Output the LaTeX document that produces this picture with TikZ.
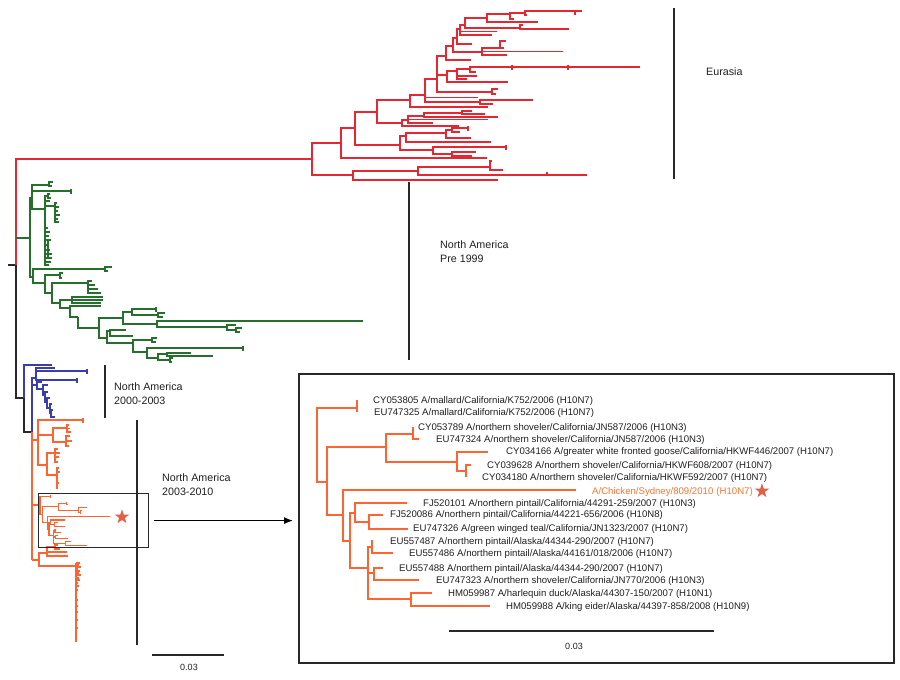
\documentclass[tikz,border=0pt]{standalone}
\usepackage{fontspec}
\setmainfont{Liberation Sans}
\usetikzlibrary{shapes.geometric,arrows.meta}
\definecolor{redtree}{RGB}{230,38,48}
\definecolor{greentree}{RGB}{36,112,44}
\definecolor{bluetree}{RGB}{58,62,170}
\definecolor{orangetree}{RGB}{255,100,48}
\definecolor{starcol}{RGB}{226,96,72}
\definecolor{chickcol}{RGB}{244,118,52}
\definecolor{txtcol}{RGB}{35,31,32}
\definecolor{barcol}{RGB}{40,40,40}
\newcommand{\tfork}[5]{\draw (#4,#2) -- (#1,#2) -- (#1,#3) -- (#5,#3);}
\newcommand{\tleaf}[3]{\draw (#1,#2) -- (#3,#2);}
\newcommand{\ttick}[2]{\draw (#1,#2-2.5) -- (#1,#2+2.5);}
\newcommand{\insettree}{%
\tfork{317}{408}{482}{357}{327}
\draw (357,400) -- (357,412);
\tfork{327}{447}{515}{386}{343}
\tfork{386}{434}{462}{413}{457}
\tfork{413}{427}{439}{413}{419}
\tfork{457}{452}{471}{488}{466}
\tfork{466}{465}{477}{471}{466}
\tfork{343}{490}{541}{576}{350}
\tfork{350}{513}{568}{355}{368}
\tfork{355}{503}{522}{407}{369}
\tfork{369}{515}{529}{383}{408}
\tfork{368}{547}{599}{372}{411}
\tleaf{368}{573}{374}
\tfork{372}{541}{553}{373}{393}
\tfork{374}{568}{580}{383}{419}
\tfork{411}{593}{606}{432}{490}
}
\tikzset{
  tree/.style={line width=1.1pt, line join=miter},
  bar/.style={line width=1.5pt, draw=barcol},
  lab/.style={font=\fontsize{10.7}{13.5}\selectfont, text=txtcol, inner sep=0pt, anchor=base west},
  ilab/.style={font=\fontsize{9.6}{11}\selectfont, text=txtcol, inner sep=0pt, anchor=base west},
  sclab/.style={font=\fontsize{9}{11}\selectfont, text=txtcol, inner sep=0pt},
  starmark/.style={star, star points=5, star point ratio=2.5, fill=starcol, draw=none, inner sep=0pt, minimum size=15pt},
}
\begin{document}
\begin{tikzpicture}[x=1pt,y=-1pt]
\useasboundingbox (0,0) rectangle (900,680);
\fill[white] (0,0) rectangle (900,680);

% ---------- root (black) ----------
\begin{scope}[tree, draw=barcol]
\draw (8,265) -- (16,265);
\draw (16,265) -- (16,398) -- (24,398);
\draw (24,398) -- (24,432) -- (32,432);
\end{scope}

% ---------- Eurasia (red) ----------
\begin{scope}[tree, draw=redtree]
\draw (16,265) -- (16,159) -- (312,159);
\tfork{312}{143}{175}{341}{353}
\tfork{353}{171}{180}{418}{498}
\tfork{418}{167}{175}{490}{587}
\tfork{490}{161}{170}{492}{503}
\draw (547,171.5) -- (547,175);
\tfork{341}{128}{158}{355}{487}
\tfork{355}{112}{145}{377}{400}
\tfork{400}{136}{150}{406}{433}
\tfork{406}{133}{142}{446}{491}
\tfork{446}{130}{138}{452}{471}
\tfork{452}{128}{132}{468}{460}
\ttick{468}{128}
\tfork{433}{147}{154}{506}{452}
\ttick{506}{147}
\tfork{452}{152}{156}{476}{472}
\tfork{377}{100}{123}{410}{402}
\tfork{402}{120}{126}{408}{459}
\tfork{408}{116}{123}{424}{433}
\tleaf{408}{119.5}{488}
\tfork{424}{113}{117}{462}{498}
\tfork{462}{111}{114}{472}{485}
\tfork{410}{95}{107}{425}{488}
\tfork{425}{79}{102}{437}{480}
\tleaf{425}{97.5}{478}
\tfork{480}{100}{104}{533}{493}
\tfork{437}{56}{92}{446}{492}
\tleaf{437}{75}{447}
\tfork{492}{89}{94}{498}{496}
\tfork{447}{71}{82}{457}{508}
\tfork{457}{69}{79}{470}{467}
\tleaf{457}{76}{477}
\tfork{470}{67}{72}{640}{476}
\ttick{512}{67}
\ttick{568}{67}
\tfork{446}{46}{60}{453}{471}
\tfork{453}{38}{52}{457}{482}
\tfork{482}{48}{55}{500}{507}
\tleaf{482}{51.5}{563}
\tfork{500}{41}{48}{506}{504}
\tfork{457}{29}{44}{460}{472}
\tfork{460}{25}{35}{465}{492}
\tleaf{460}{31.5}{497}
\tfork{465}{18}{28}{487}{520}
\tfork{520}{25}{29}{523}{569}
\tfork{487}{14}{22}{510}{538}
\tfork{510}{13}{19}{525}{514}
\tfork{525}{11}{15}{582}{527}
\ttick{575}{12}
\end{scope}

% ---------- North America pre 1999 (green) ----------
\begin{scope}[tree, draw=greentree]
\draw (16,238) -- (30,238);
\tfork{30}{198}{277}{32}{33}
\tfork{32}{185}{209}{49}{45}
\tfork{49}{182}{186}{53}{52}
\tleaf{32}{191}{71}
\ttick{71}{191}
\tfork{45}{196}{265}{48}{49}
\tfork{48}{194}{198}{50}{51}
\tleaf{45}{201}{50}
\tleaf{45}{206}{55}
\tfork{55}{203}{222}{57}{59}
\tleaf{55}{207}{59}
\tleaf{55}{211}{58}
\tleaf{55}{215}{60}
\tleaf{55}{219}{58}
\foreach \y/\l in {228/48,232/50,236/49,240/51,245/48,250/50,254/52,258/49,262/51}{\tleaf{45}{\y}{\l}}
\tfork{48}{240}{258}{50}{52}
\tfork{33}{269}{283}{105}{45}
\tfork{105}{267}{271}{112}{108}
\tfork{45}{275}{293}{60}{52}
\tfork{60}{273}{278}{63}{62}
\tfork{52}{283}{303}{88}{60}
\tfork{88}{281}{293}{92}{101}
\tleaf{88}{285}{95}
\tleaf{88}{289}{98}
\tfork{60}{300}{308}{72}{70}
\tfork{72}{297}{303}{103}{101}
\tleaf{72}{300}{103}
\tfork{70}{306}{317}{101}{78}
\draw (78,317) -- (78,328) -- (99,328);
\tfork{99}{318}{338}{123}{107}
\tfork{123}{312}{324}{132}{157}
\tfork{132}{309}{315}{156}{158}
\ttick{156}{309}
\tfork{158}{313}{317}{165}{163}
\tfork{157}{321}{327}{363}{227}
\tfork{227}{325}{330}{236}{236}
\tfork{236}{328}{332}{242}{240}
\tfork{107}{331}{343}{110}{133}
\tfork{110}{330}{336}{126}{133}
\tfork{133}{340}{352}{152}{147}
\tfork{152}{338}{342}{157}{156}
\tfork{147}{348}{358}{243}{158}
\ttick{243}{348}
\tfork{158}{354}{360}{167}{170}
\tfork{167}{353}{356}{191}{213}
\tfork{170}{358}{362}{173}{172}
\end{scope}

% ---------- North America 2000-2003 (blue) ----------
\begin{scope}[tree, draw=bluetree]
\draw (24,398) -- (24,365) -- (52,365);
\draw (32,432) -- (32,378);
\tfork{32}{378}{385}{36}{37}
\tfork{36}{368}{380}{55}{77}
\tleaf{36}{371}{87}
\ttick{87}{371}
\ttick{77}{380}
\tfork{37}{382}{389}{42}{43}
\tfork{43}{385}{395}{48}{45}
\tfork{45}{392}{402}{48}{47}
\tfork{47}{398}{408}{50}{50}
\tfork{50}{404}{413}{52}{51}
\tfork{51}{410}{417}{53}{55}
\end{scope}

% ---------- North America 2003-2010 (orange) ----------
\begin{scope}[tree, draw=orangetree]
\draw (32,432) -- (32,560);
\draw (32,440) -- (38,440);
\tfork{38}{420}{465}{83}{47}
\ttick{83}{420}
\tleaf{38}{435}{53}
\tfork{53}{428}{442}{67}{66}
\tfork{67}{425}{432}{69}{71}
\tleaf{67}{428.5}{70}
\tfork{66}{436}{446}{70}{69}
\tleaf{66}{441}{72}
\tfork{47}{453}{475}{55}{57}
\tfork{55}{449}{462}{58}{58}
\tleaf{55}{453}{60}
\tleaf{55}{457}{59}
\tfork{57}{468}{488}{59}{58}
\tleaf{57}{472}{60}
\tleaf{57}{478}{58}
\tleaf{57}{483}{59}
\draw (32,505) -- (40,505);
\begin{scope}[shift={(-46.2,397.8)}, xscale=0.272, yscale=0.243]
\insettree
\end{scope}
\draw (32,560) -- (39,560);
\tfork{39}{553}{566}{47}{76}
\tfork{47}{547}{556}{55}{68}
\tleaf{47}{552}{67}
\tfork{55}{545}{549}{58}{60}
\draw (76,563) -- (76,642);
\foreach \y/\l in {563/80,565/79,567/81,569/78,571/80,573/79,575/81,578/79,580/80,583/78,586/79,590/78,600/78,606/78,612/78,620/78,628/78}{\tleaf{76}{\y}{\l}}
\end{scope}
\node[starmark] (star1) at (122,517) {};

% ---------- clade bars and labels ----------
\draw[bar] (674,8) -- (674,179);
\node[lab] (eur) at (706,75.8) {Eurasia};
\draw[bar] (409,182) -- (409,360);
\node[lab] (na1a) at (440,248.8) {North America};
\node[lab] (na1b) at (440,262.3) {Pre 1999};
\draw[bar] (105,365) -- (105,418);
\node[lab] (na2a) at (114,390.8) {North America};
\node[lab] (na2b) at (114,404.3) {2000-2003};
\draw[bar] (137,420) -- (137,645);
\node[lab] (na3a) at (162,481.8) {North America};
\node[lab] (na3b) at (162,495.8) {2003-2010};

% ---------- scale bar ----------
\draw[bar, line width=1.4pt] (152,655) -- (224,655);
\node[sclab] (sc1) at (189,667) {0.03};

% ---------- boxes and arrow ----------
\node[draw=barcol, line width=1.2pt, minimum width=110pt, minimum height=54pt, anchor=north west, inner sep=0pt] (smallbox) at (38,493) {};
\node[draw=barcol, line width=1.5pt, minimum width=595pt, minimum height=289pt, anchor=north west, inner sep=0pt] (insetbox) at (298,373) {};
\draw[line width=1.2pt, draw=black, -{Latex[length=9pt,width=7pt]}] ([xshift=5pt]smallbox.east) -- ([xshift=-5pt]insetbox.west |- smallbox.east);

% ---------- inset tree ----------
\begin{scope}[tree, draw=orangetree]
\insettree
\end{scope}
\node[starmark] (star2) at (762,491) {};
\node[ilab] (l1) at (373,403.4) {CY053805 A/mallard/California/K752/2006 (H10N7)};
\node[ilab] (l2) at (374,415.4) {EU747325 A/mallard/California/K752/2006 (H10N7)};
\node[ilab] (l3) at (418,430.4) {CY053789 A/northern shoveler/California/JN587/2006 (H10N3)};
\node[ilab] (l4) at (436,442.4) {EU747324 A/northern shoveler/California/JN587/2006 (H10N3)};
\node[ilab] (l5) at (506,454.4) {CY034166 A/greater white fronted goose/California/HKWF446/2007 (H10N7)};
\node[ilab] (l6) at (487,468.4) {CY039628 A/northern shoveler/California/HKWF608/2007 (H10N7)};
\node[ilab] (l7) at (482,480.4) {CY034180 A/northern shoveler/California/HKWF592/2007 (H10N7)};
\node[ilab, text=chickcol] (l8) at (592,494.4) {A/Chicken/Sydney/809/2010 \hspace{0.5pt}(H10N7)};
\node[ilab] (l9) at (423,506.4) {FJ520101 A/northern pintail/California/44291-259/2007 (H10N3)};
\node[ilab] (l10) at (390,517.4) {FJ520086 A/northern pintail/California/44221-656/2006 (H10N8)};
\node[ilab] (l11) at (413,531.4) {EU747326 A/green winged teal/California/JN1323/2007 (H10N7)};
\node[ilab] (l12) at (390,544.4) {EU557487 A/northern pintail/Alaska/44344-290/2007 (H10N7)};
\node[ilab] (l13) at (409,556.4) {EU557486 A/northern pintail/Alaska/44161/018/2006 (H10N7)};
\node[ilab] (l14) at (399,571.4) {EU557488 A/northern pintail/Alaska/44344-290/2007 (H10N7)};
\node[ilab] (l15) at (436,583.4) {EU747323 A/northern shoveler/California/JN770/2006 (H10N3)};
\node[ilab] (l16) at (448,596.4) {HM059987 A/harlequin duck/Alaska/44307-150/2007 (H10N1)};
\node[ilab] (l17) at (506,609.4) {HM059988 A/king eider/Alaska/44397-858/2008 (H10N9)};
\draw[bar, line width=1.4pt] (449,631) -- (714,631);
\node[sclab] (sc2) at (574,646) {0.03};
\end{tikzpicture}
\end{document}
